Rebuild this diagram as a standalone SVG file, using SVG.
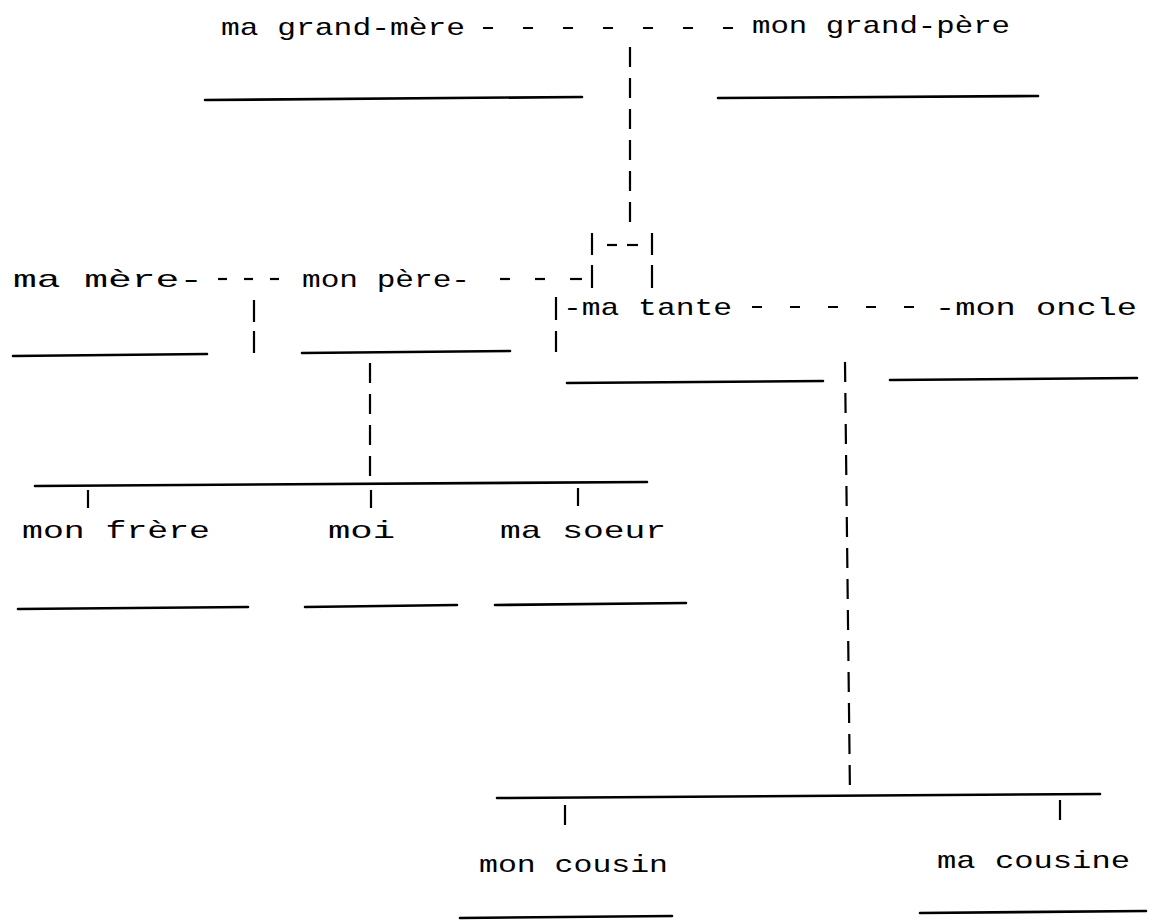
<svg xmlns="http://www.w3.org/2000/svg" width="1150" height="924" viewBox="0 0 1150 924">
<style>
.t{font-family:"Liberation Mono","Courier New",monospace;font-size:24px;fill:#000}
.u{stroke:#000;stroke-width:2.6;stroke-linecap:round;fill:none}
.c{stroke:#000;stroke-width:2.2;fill:none}
.vd{stroke:#000;stroke-width:2.2;fill:none;stroke-dasharray:20 11}
.hd{stroke:#000;stroke-width:2.2;fill:none;stroke-dasharray:10 30}
</style>
<rect width="1150" height="924" fill="#fff"/>
<g id="connectors">
  <line class="hd" x1="483" y1="28" x2="733" y2="28"/>
  <line class="vd" x1="630" y1="47" x2="630" y2="226"/>
  <line class="c" x1="592" y1="233" x2="592" y2="255"/>
  <line class="c" x1="652" y1="233" x2="652" y2="255"/>
  <line class="c" x1="607" y1="245" x2="617" y2="245"/>
  <line class="c" x1="627" y1="245" x2="638" y2="245"/>
  <line class="c" x1="592" y1="265" x2="592" y2="288"/>
  <line class="c" x1="652" y1="265" x2="652" y2="288"/>
  <line class="c" x1="218" y1="279" x2="227" y2="279"/>
  <line class="c" x1="244" y1="279" x2="253" y2="279"/>
  <line class="c" x1="270" y1="279" x2="279" y2="279"/>
  <line class="c" x1="500" y1="279" x2="510" y2="279"/>
  <line class="c" x1="535" y1="279" x2="545" y2="279"/>
  <line class="c" x1="570" y1="279" x2="582" y2="279"/>
  <line class="c" x1="254" y1="300" x2="254" y2="322"/>
  <line class="c" x1="254" y1="331" x2="254" y2="353"/>
  <line class="c" x1="556" y1="297" x2="556" y2="320"/>
  <line class="c" x1="556" y1="331" x2="556" y2="352"/>
  <line class="hd" x1="752" y1="307" x2="914" y2="307" style="stroke-dasharray:10 28"/>
  <line class="vd" x1="370" y1="363" x2="370" y2="484"/>
  <line class="u" x1="35" y1="486" x2="647" y2="482"/>
  <line class="c" x1="88" y1="490" x2="88" y2="508"/>
  <line class="c" x1="371" y1="490" x2="371" y2="508"/>
  <line class="c" x1="578" y1="488" x2="578" y2="506"/>
  <line class="vd" x1="845" y1="362" x2="850" y2="796"/>
  <line class="u" x1="497" y1="798" x2="1100" y2="794"/>
  <line class="c" x1="565" y1="805" x2="565" y2="825"/>
  <line class="c" x1="1060" y1="800" x2="1060" y2="820"/>
</g>
<g id="grand-mere">
  <text class="t" x="221" y="35" textLength="244" lengthAdjust="spacingAndGlyphs">ma grand-mère</text>
  <line class="u" x1="205" y1="100" x2="582" y2="97"/>
</g>
<g id="grand-pere">
  <text class="t" x="752" y="33" textLength="258" lengthAdjust="spacingAndGlyphs">mon grand-père</text>
  <line class="u" x1="718" y1="98" x2="1038" y2="96"/>
</g>
<g id="mere">
  <text class="t" x="13" y="287" textLength="190" lengthAdjust="spacingAndGlyphs">ma mère-</text>
  <line class="u" x1="13" y1="356" x2="207" y2="354"/>
</g>
<g id="pere">
  <text class="t" x="302" y="287" textLength="168" lengthAdjust="spacingAndGlyphs">mon père-</text>
  <line class="u" x1="302" y1="353" x2="510" y2="351"/>
</g>
<g id="tante">
  <text class="t" x="563" y="315" textLength="169" lengthAdjust="spacingAndGlyphs">-ma tante</text>
  <line class="u" x1="567" y1="383" x2="823" y2="381"/>
</g>
<g id="oncle">
  <text class="t" x="935" y="315" textLength="202" lengthAdjust="spacingAndGlyphs">-mon oncle</text>
  <line class="u" x1="890" y1="380" x2="1137" y2="378"/>
</g>
<g id="frere">
  <text class="t" x="22" y="538" textLength="188" lengthAdjust="spacingAndGlyphs">mon frère</text>
  <line class="u" x1="18" y1="609" x2="248" y2="607"/>
</g>
<g id="moi">
  <text class="t" x="328" y="538" textLength="67" lengthAdjust="spacingAndGlyphs">moi</text>
  <line class="u" x1="305" y1="607" x2="457" y2="605"/>
</g>
<g id="soeur">
  <text class="t" x="500" y="538" textLength="166" lengthAdjust="spacingAndGlyphs">ma soeur</text>
  <line class="u" x1="495" y1="605" x2="686" y2="603"/>
</g>
<g id="cousin">
  <text class="t" x="479" y="872" textLength="189" lengthAdjust="spacingAndGlyphs">mon cousin</text>
  <line class="u" x1="460" y1="918" x2="672" y2="916"/>
</g>
<g id="cousine">
  <text class="t" x="937" y="868" textLength="193" lengthAdjust="spacingAndGlyphs">ma cousine</text>
  <line class="u" x1="920" y1="913" x2="1146" y2="911"/>
</g>
</svg>
